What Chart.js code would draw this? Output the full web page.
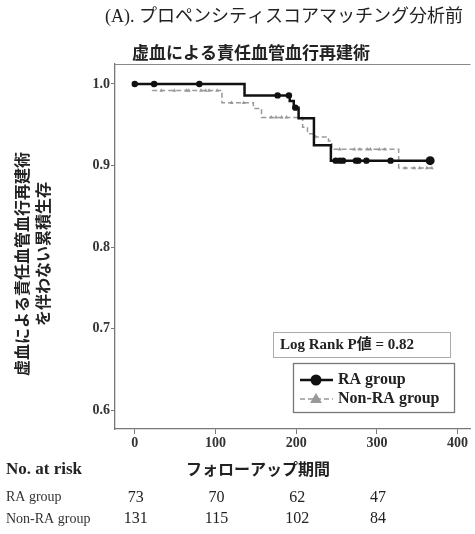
<!DOCTYPE html>
<html lang="ja">
<head>
<meta charset="UTF-8">
<script src="https://cdn.jsdelivr.net/npm/chart.js@4.4.0/dist/chart.umd.min.js"></script>
<style>
  * { margin: 0; padding: 0; }
  body { background: #fff; width: 475px; height: 534px; overflow: hidden; }
</style>
<title>KM curve</title>
</head>
<body>
<canvas id="km" width="475" height="534"></canvas>
<script>
  // survival steps (day of event, survival after it)
  var raEventDays = [136, 192, 197, 203, 222, 243];
  var raSurv = [0.986, 0.979, 0.971, 0.958, 0.925, 0.906];
  var raCensorDays = [0, 24, 80, 177, 191, 199, 249, 254, 258, 274, 277, 287, 317, 366];

  var nonEventDays = [22, 108, 147, 157, 208, 214, 224, 240, 244, 327];
  var nonSurv = [0.992, 0.977, 0.970, 0.959, 0.947, 0.939, 0.935, 0.930, 0.920, 0.897];
  var nonCensorDays = [33, 49, 64, 67, 82, 88, 92, 102, 120, 135, 169, 175, 182, 188,
    254, 272, 279, 288, 292, 303, 310, 335, 346, 353, 362, 368];

  var xTicks = [0, 100, 200, 300, 400];
  var yTicks = [0.6, 0.7, 0.8, 0.9, 1.0];

  var riskDays = [0, 100, 200, 300];
  var raRisk = [73, 70, 62, 47];
  var nonRisk = [131, 115, 102, 84];

  var serif = '"Liberation Serif", "Noto Sans CJK JP", serif';
  var jp = '"Noto Sans CJK JP", sans-serif';

  function survAt(days, surv, t) {
    var s = 1;
    for (var i = 0; i < days.length; i++) {
      if (days[i] <= t) s = surv[i];
    }
    return s;
  }

  function curve(days, surv, endDay) {
    var pts = [{ x: 0, y: 1 }];
    for (var i = 0; i < days.length; i++) pts.push({ x: days[i], y: surv[i] });
    pts.push({ x: endDay, y: surv[surv.length - 1] });
    return pts;
  }

  function censors(days, eDays, surv) {
    return days.map(function (d) { return { x: d, y: survAt(eDays, surv, d) }; });
  }

  var raLast = raCensorDays[raCensorDays.length - 1];
  var nonLast = nonCensorDays[nonCensorDays.length - 1];

  var extras = {
    id: 'extras',
    afterDraw: function (chart) {
      var ctx = chart.ctx, a = chart.chartArea, xs = chart.scales.x;
      ctx.save();
      // top frame line
      ctx.strokeStyle = '#8a8a8a';
      ctx.lineWidth = 1.2;
      ctx.beginPath();
      ctx.moveTo(a.left, a.top + 0.5);
      ctx.lineTo(a.right, a.top + 0.5);
      ctx.stroke();

      ctx.fillStyle = '#222';
      ctx.textBaseline = 'middle';

      // subtitle and title
      ctx.textAlign = 'right';
      ctx.font = '18px ' + serif;
      ctx.fillText('(A). プロペンシティスコアマッチング分析前', 463, 17);
      ctx.textAlign = 'left';
      ctx.font = 'bold 17px ' + jp;
      ctx.fillText('虚血による責任血管血行再建術', 132, 53);

      // y title
      ctx.font = 'bold 16px ' + jp;
      ctx.textAlign = 'center';
      ctx.save();
      ctx.translate(22, 264);
      ctx.rotate(-Math.PI / 2);
      ctx.fillText('虚血による責任血管血行再建術', 0, 0);
      ctx.restore();
      ctx.save();
      ctx.translate(43, 254);
      ctx.rotate(-Math.PI / 2);
      ctx.fillText('を伴わない累積生存', 0, 0);
      ctx.restore();

      // x title + risk table
      ctx.font = 'bold 16px ' + jp;
      ctx.fillText('フォローアップ期間', 258, 469);
      ctx.textAlign = 'left';
      ctx.font = 'bold 17px ' + serif;
      ctx.fillText('No. at risk', 6, 470);
      ctx.font = '14px ' + serif;
      ctx.fillStyle = '#333';
      ctx.fillText('RA group', 6, 497);
      ctx.fillText('Non-RA group', 6, 519);
      ctx.textAlign = 'center';
      ctx.font = '16px ' + serif;
      ctx.fillStyle = '#222';
      for (var i = 0; i < riskDays.length; i++) {
        var px = xs.getPixelForValue(riskDays[i]);
        ctx.fillText(String(raRisk[i]), px + 1, 498);
        ctx.fillText(String(nonRisk[i]), px + 1, 519);
      }

      // log rank box
      ctx.strokeStyle = '#aaa';
      ctx.lineWidth = 1;
      ctx.strokeRect(273.5, 332.5, 177, 25);
      ctx.textAlign = 'left';
      ctx.font = 'bold 15px ' + serif;
      ctx.fillText('Log Rank P値 = 0.82', 280, 345);

      // legend box
      ctx.strokeStyle = '#777';
      ctx.lineWidth = 1.3;
      ctx.strokeRect(293.5, 363.5, 161, 49);
      ctx.strokeStyle = '#111';
      ctx.lineWidth = 2.5;
      ctx.beginPath();
      ctx.moveTo(300, 380);
      ctx.lineTo(333, 380);
      ctx.stroke();
      ctx.fillStyle = '#111';
      ctx.beginPath();
      ctx.arc(316, 380, 5.5, 0, Math.PI * 2);
      ctx.fill();
      ctx.strokeStyle = '#999';
      ctx.lineWidth = 1.5;
      ctx.setLineDash([5, 3]);
      ctx.beginPath();
      ctx.moveTo(300, 399);
      ctx.lineTo(333, 399);
      ctx.stroke();
      ctx.setLineDash([]);
      ctx.fillStyle = '#999';
      ctx.beginPath();
      ctx.moveTo(316, 393);
      ctx.lineTo(322, 403);
      ctx.lineTo(310, 403);
      ctx.closePath();
      ctx.fill();
      ctx.fillStyle = '#222';
      ctx.font = 'bold 16px ' + serif;
      ctx.fillText('RA group', 338, 380);
      ctx.fillText('Non-RA group', 338, 399);
      ctx.restore();
    }
  };

  new Chart(document.getElementById('km'), {
    type: 'line',
    data: {
      datasets: [{
        data: censors(raCensorDays, raEventDays, raSurv),
        showLine: false,
        pointRadius: function (c) { return c.dataIndex === raCensorDays.length - 1 ? 4.5 : 3.2; },
        pointBackgroundColor: '#111',
        pointBorderWidth: 0
      }, {
        data: curve(raEventDays, raSurv, raLast),
        borderColor: '#111',
        borderWidth: 2.5,
        stepped: true,
        pointRadius: 0
      }, {
        data: censors(nonCensorDays, nonEventDays, nonSurv),
        showLine: false,
        pointStyle: 'triangle',
        pointRadius: 2.3,
        pointBackgroundColor: '#999',
        pointBorderWidth: 0
      }, {
        data: curve(nonEventDays, nonSurv, nonLast),
        borderColor: '#9a9a9a',
        borderWidth: 1.5,
        borderDash: [5, 3],
        stepped: true,
        pointRadius: 0
      }]
    },
    options: {
      responsive: false,
      animation: false,
      devicePixelRatio: 1,
      layout: { padding: { top: 64, right: 1, left: 0, bottom: 0 } },
      plugins: { legend: { display: false }, tooltip: { enabled: false } },
      scales: {
        x: {
          type: 'linear',
          min: -24.5,
          max: 416,
          afterBuildTicks: function (s) { s.ticks = xTicks.map(function (v) { return { value: v }; }); },
          afterFit: function (s) { s.height = 105; },
          grid: { drawOnChartArea: false, drawTicks: true, tickLength: 5, color: '#777' },
          border: { display: true, color: '#777', width: 1.3 },
          ticks: { font: { family: serif, size: 14, weight: 'bold' }, color: '#333', padding: 1, maxRotation: 0 }
        },
        y: {
          min: 0.577,
          max: 1.0245,
          afterBuildTicks: function (s) { s.ticks = yTicks.map(function (v) { return { value: v }; }); },
          afterFit: function (s) { s.width = 115; },
          grid: { drawOnChartArea: false, drawTicks: true, tickLength: 4, color: '#777' },
          border: { display: true, color: '#777', width: 1.3 },
          ticks: {
            font: { family: serif, size: 14, weight: 'bold' }, color: '#333', padding: 1,
            callback: function (v) { return v.toFixed(1); }
          }
        }
      }
    },
    plugins: [extras]
  });
</script>
</body>
</html>
